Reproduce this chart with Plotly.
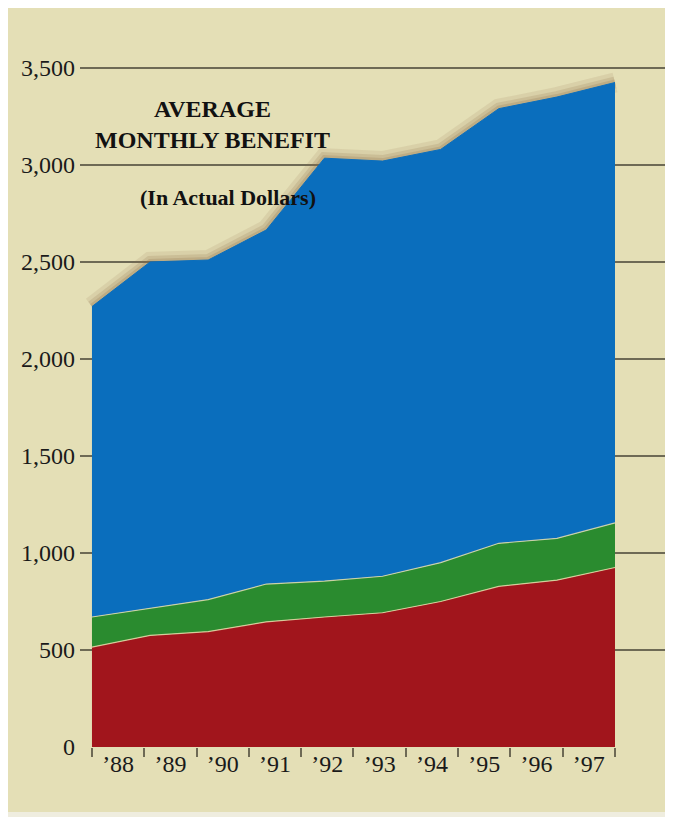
import plotly.graph_objects as go

# data (monthly benefit, actual dollars)
years = ["\u201988", "\u201989", "\u201990", "\u201991", "\u201992",
         "\u201993", "\u201994", "\u201995", "\u201996", "\u201997"]
red_values = [515, 575, 595, 645, 670, 692, 750, 828, 860, 925]
green_values = [155, 140, 165, 195, 185, 188, 200, 222, 215, 230]
blue_values = [1600, 1785, 1750, 1825, 2180, 2140, 2130, 2240, 2275, 2270]
y_ticks = [0, 500, 1000, 1500, 2000, 2500, 3000, 3500]

x_pos = list(range(len(years)))
totals = [r + g + b for r, g, b in zip(red_values, green_values, blue_values)]

SERIF = "Liberation Serif"
BEIGE = "#e4dfb6"
GRID = "#6e6a55"

fig = go.Figure()

# soft shadow along the top edge
for w, a in [(20, 0.12), (12, 0.18), (6, 0.22)]:
    fig.add_trace(go.Scatter(
        x=x_pos, y=totals, mode="lines",
        line=dict(color=f"rgba(140,110,70,{a})", width=w),
        hoverinfo="skip", showlegend=False,
    ))

fig.add_trace(go.Scatter(
    x=x_pos, y=red_values, stackgroup="one", mode="lines",
    line=dict(color="rgba(235,225,175,0.8)", width=1.2),
    fillcolor="#a1151c", name="red", showlegend=False,
))
fig.add_trace(go.Scatter(
    x=x_pos, y=green_values, stackgroup="one", mode="lines",
    line=dict(color="rgba(235,225,175,0.8)", width=1.2),
    fillcolor="#2a8b2f", name="green", showlegend=False,
))
fig.add_trace(go.Scatter(
    x=x_pos, y=blue_values, stackgroup="one", mode="lines",
    line=dict(color="#0a6ebd", width=1),
    fillcolor="#0a6ebd", name="blue", showlegend=False,
))

# invisible trace to carry the category axis for the year labels
fig.add_trace(go.Scatter(
    x=years, y=[None] * len(years), xaxis="x2", mode="markers",
    hoverinfo="skip", showlegend=False,
))

fig.add_annotation(
    x=2.08, y=3211, xref="x", yref="y",
    text="<b>AVERAGE<br>MONTHLY BENEFIT</b>", showarrow=False,
    font=dict(family=SERIF, size=24, color="#111111"), align="center",
)
fig.add_annotation(
    x=2.34, y=2830, xref="x", yref="y",
    text="<b>(In Actual Dollars)</b>", showarrow=False,
    font=dict(family=SERIF, size=22, color="#111111"),
)

fig.add_shape(
    type="rect", xref="paper", yref="paper",
    x0=-0.1214, x1=1.0, y0=-0.0919, y1=1.06,
    fillcolor=BEIGE, line=dict(width=0), layer="below",
)

fig.update_layout(
    width=665, height=809,
    margin=dict(l=72, r=0, t=32, b=70),
    paper_bgcolor="#efeddf",
    plot_bgcolor="rgba(0,0,0,0)",
    xaxis=dict(
        range=[-0.206, 9.998], showgrid=False, zeroline=False,
        showticklabels=False, ticks="",
    ),
    xaxis2=dict(
        overlaying="x", side="bottom", type="category",
        categoryorder="array", categoryarray=years,
        range=[-0.729, 10.609], tickson="boundaries",
        ticks="outside", ticklen=9, tickwidth=2, tickcolor=GRID,
        showgrid=False, zeroline=False, showline=False,
        tickfont=dict(family=SERIF, size=24, color="#1a1a1a"),
    ),
    yaxis=dict(
        range=[0, 3644], tickvals=y_ticks,
        ticktext=[f"{v:,}" for v in y_ticks],
        showgrid=True, gridcolor=GRID, gridwidth=2,
        zeroline=False, ticks="", ticklabelstandoff=4,
        tickfont=dict(family=SERIF, size=24, color="#1a1a1a"),
    ),
)

fig.write_html("out.html")
